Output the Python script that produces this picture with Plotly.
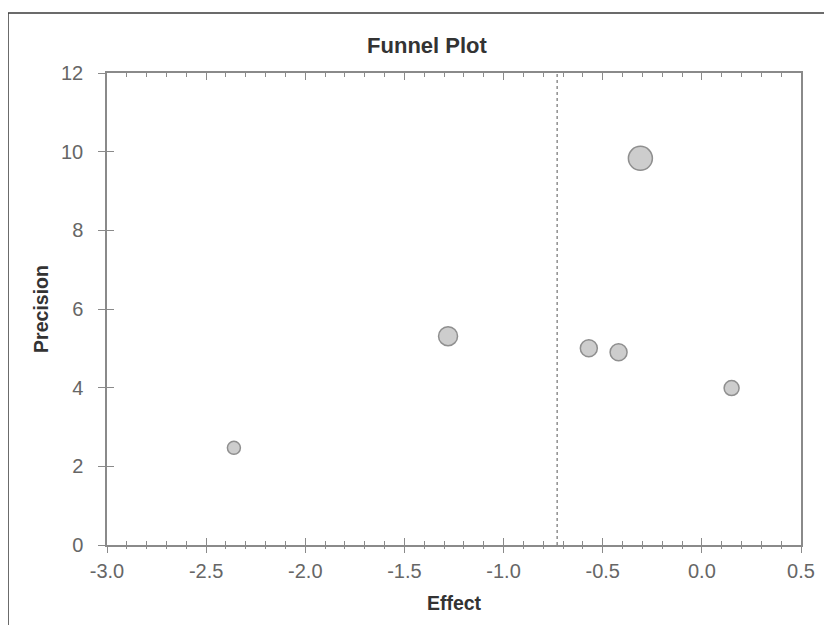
import plotly.graph_objects as go

# ---- data ----
effect = [-2.36, -1.28, -0.57, -0.42, -0.31, 0.15]
precision = [2.47, 5.31, 5.00, 4.90, 9.83, 3.99]
study_weight = [13, 19, 17, 17, 24, 15]
summary_effect = -0.73
x_ticks = [-3.0, -2.5, -2.0, -1.5, -1.0, -0.5, 0.0, 0.5]
x_tick_labels = ["-3.0", "-2.5", "-2.0", "-1.5", "-1.0", "-0.5", "0.0", "0.5"]
y_ticks = [0, 2, 4, 6, 8, 10, 12]

# page has an 8px body margin; figure coordinates are page - 8
W, H = 832, 625
OFF = 8
L, T = 107 - OFF, 73 - OFF
R = W - (801 - OFF)
B = H - (545 - OFF)
pw, ph = W - L - R, H - T - B

def px_to_paper_x(px):
    return (px - OFF - L) / pw

def px_to_paper_y(py):
    return (H - B - (py - OFF)) / ph

FONT = "Liberation Sans, Arial, sans-serif"
AXC = "#8a8a8a"
TICKC = "#666666"

fig = go.Figure()

fig.add_trace(go.Scatter(
    x=[summary_effect, summary_effect], y=[0, 12], mode="lines",
    line=dict(color="#555555", width=1, dash="dot"),
    showlegend=False, hoverinfo="skip"))

fig.add_trace(go.Scatter(
    x=effect, y=precision, mode="markers",
    marker=dict(size=study_weight, color="#b8b8b8",
                line=dict(color="#606060", width=1.5)),
    showlegend=False))

# invisible trace to activate overlay axes
fig.add_trace(go.Scatter(x=[None], y=[None], xaxis="x2", yaxis="y2",
                         showlegend=False, hoverinfo="skip"))

fig.update_layout(
    width=W, height=H,
    margin=dict(l=L, r=R, t=T, b=B),
    paper_bgcolor="white", plot_bgcolor="white",
    font=dict(family=FONT, size=20, color=TICKC),
    title=dict(text="<b>Funnel Plot</b>", x=px_to_paper_x(427), xref="paper",
               y=1 - (45 - OFF) / H, yref="container", xanchor="center", yanchor="middle",
               font=dict(family=FONT, size=22, color="#333333")),
    xaxis=dict(range=[-3.0, 0.5], tickvals=x_ticks, ticktext=x_tick_labels,
               showgrid=False, zeroline=False,
               showline=True, linecolor=AXC, linewidth=1.5, mirror="ticks",
               ticks="inside", ticklen=7, tickwidth=1.2, tickcolor=AXC,
               minor=dict(dtick=0.1, ticks="inside", ticklen=4, tickwidth=1, tickcolor=AXC),
               tickfont=dict(family=FONT, size=20, color=TICKC),
               ticklabelstandoff=7,
               title=dict(text="<b>Effect</b>", standoff=16,
                          font=dict(family=FONT, size=19.5, color="#333333"))),
    xaxis2=dict(range=[-3.0, 0.5], overlaying="x", side="bottom", tickvals=x_ticks,
                showticklabels=False, showgrid=False, zeroline=False, showline=False,
                ticks="outside", ticklen=7, tickwidth=1.2, tickcolor=AXC,
                minor=dict(dtick=0.1, ticks="outside", ticklen=3, tickwidth=1, tickcolor=AXC)),
    yaxis=dict(range=[0, 12], tickvals=y_ticks,
               showgrid=False, zeroline=False,
               showline=True, linecolor=AXC, linewidth=1.5, mirror=True,
               ticks="outside", ticklen=7, tickwidth=1.2, tickcolor=AXC,
               tickfont=dict(family=FONT, size=20, color=TICKC),
               ticklabelstandoff=11,
               title=dict(text="<b>Precision</b>", standoff=7,
                          font=dict(family=FONT, size=19.5, color="#333333"))),
    yaxis2=dict(range=[0, 12], overlaying="y", side="left", tickvals=y_ticks,
                showticklabels=False, showgrid=False, zeroline=False, showline=False,
                ticks="inside", ticklen=7, tickwidth=1.2, tickcolor=AXC),
    shapes=[
        dict(type="line", xref="paper", yref="paper",
             x0=px_to_paper_x(8), x1=px_to_paper_x(840),
             y0=px_to_paper_y(13), y1=px_to_paper_y(13),
             line=dict(color="#3a3a3a", width=1.5)),
        dict(type="line", xref="paper", yref="paper",
             x0=px_to_paper_x(8), x1=px_to_paper_x(8),
             y0=px_to_paper_y(13), y1=px_to_paper_y(640),
             line=dict(color="#3a3a3a", width=1.5)),
    ],
)

fig.write_html("out.html")
